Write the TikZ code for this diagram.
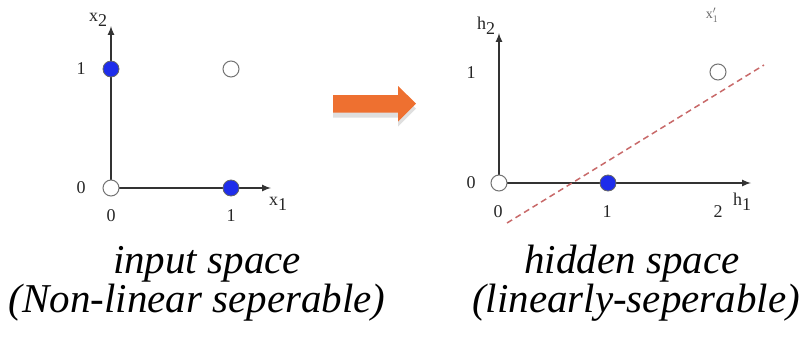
\documentclass[tikz,border=0pt]{standalone}
\usepackage{fontspec}
\setmainfont{Liberation Serif}
\usetikzlibrary{arrows}
\usetikzlibrary{shadows}

\definecolor{ptblue}{RGB}{30,45,235}
\definecolor{arrorange}{RGB}{238,112,48}
\definecolor{sepred}{RGB}{200,105,105}

\newcommand{\axlbl}[2]{#1\raisebox{-5pt}{#2}}

\tikzset{
	axis/.style={draw=black!80,line width=2pt,-latex},
	onept/.style={circle,draw=black!60,fill=ptblue,line width=0.8pt,minimum size=16pt,inner sep=0pt},
	zeropt/.style={circle,draw=black!55,fill=white,line width=1pt,minimum size=16pt,inner sep=0pt},
	ticklbl/.style={font=\fontsize{18}{18}\selectfont,text=black!85,inner sep=0pt},
	caption/.style={font=\fontsize{41}{41}\selectfont\itshape,anchor=base,inner sep=0pt}
}

\begin{document}
\begin{tikzpicture}[x=1pt,y=-1pt]
			\useasboundingbox (0,0) rectangle (807,338);
			% input space
			\coordinate (o1) at (111,188);
			\coordinate (x1end) at (271,188);
			\coordinate (x2end) at (111,26);
			\draw[axis] (o1) -- (x1end);
			\draw[axis] (o1) -- (x2end);
			\node[zeropt] (p00) at (o1) {};
			\node[onept]  (p10) at (231,188) {};
			\node[onept]  (p01) at (111,69) {};
			\node[zeropt] (p11) at (231,69) {};
			\node[ticklbl] (x1lbl) at (278,204) {\axlbl{x}{1}};
			\node[ticklbl] (x2lbl) at (98,20) {\axlbl{x}{2}};
			\node[ticklbl] (lt0b) at (111,216) {0};
			\node[ticklbl] (lt1b) at (231,216) {1};
			\node[ticklbl] (lt0l) at (81,188) {0};
			\node[ticklbl] (lt1l) at (81,69) {1};

			% the mapping arrow
			\fill[arrorange,drop shadow={opacity=0.25,shadow xshift=0pt,shadow yshift=-5pt}]
					(333,95) -- (398,95) -- (398,86) -- (416,103.5)
					-- (398,121.5) -- (398,112.5) -- (333,112.5) -- cycle;

			% hidden space
			\coordinate (o2) at (499,183);
			\coordinate (h1end) at (751,183);
			\coordinate (h2end) at (499,33);
			\draw[axis] (o2) -- (h1end);
			\draw[axis] (o2) -- (h2end);
			\coordinate (sepa) at (507,223);
			\coordinate (sepb) at (764,65);
			\draw[sepred,line width=1.5pt,dash pattern=on 6pt off 4pt] (sepa) -- (sepb);
			\node[zeropt] (q00) at (o2) {};
			\node[onept]  (q10) at (608,183) {};
			\node[zeropt] (q21) at (718,72) {};
			\node[ticklbl] (h1lbl) at (742,202) {\axlbl{h}{1}};
			\node[ticklbl] (h2lbl) at (486,26) {\axlbl{h}{2}};
			\node[ticklbl] (rt0b) at (498,212) {0};
			\node[ticklbl] (rt1b) at (607,212) {1};
			\node[ticklbl] (rt2b) at (718,212) {2};
			\node[ticklbl] (rt0l) at (471,183) {0};
			\node[ticklbl] (rt1l) at (471,73) {1};
			\node[font=\fontsize{14}{14}\selectfont,text=black!60,inner sep=0pt] (xplbl) at (712,15)
					{$\mathrm{x}'_1$};

			% captions
			\node[caption] (cap1a) at (207,273) {input space};
			\node[caption] (cap1b) at (197,312) {(Non-linear seperable)};
			\node[caption] (cap2a) at (632,273) {hidden space};
			\node[caption] (cap2b) at (636,312) {(linearly-seperable)};
\end{tikzpicture}
\end{document}
